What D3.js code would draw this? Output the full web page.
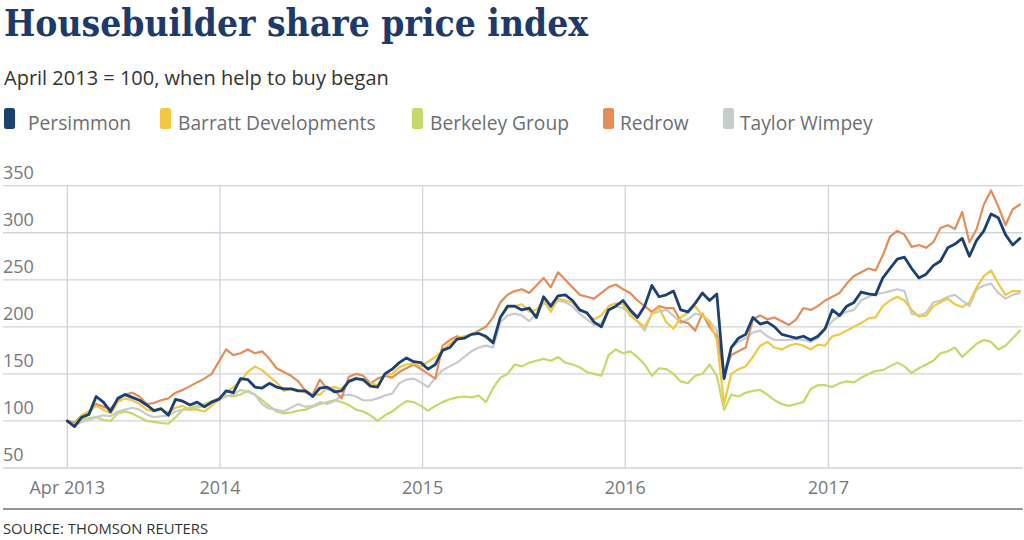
<!DOCTYPE html>
<html><head><meta charset="utf-8">
<script src="https://cdn.jsdelivr.net/npm/d3@7"></script>
<style>body{margin:0;background:#fff}svg{display:block}</style>
</head><body><svg id="c" width="1024" height="540"></svg>
<script>
// ---- data ----
const startDate = "2013-04-01";
const stepDays = 13;
const seriesNames = ["Persimmon","Barratt Developments","Berkeley Group","Redrow","Taylor Wimpey"];
const persimmon = [100,94,104,107,126,120,110,124,128,125,122,117,111,113,106,123,121,117,120,115,120,123,132,130,145,144,136,135,140,136,134,134,132,132,126,135,136,131,132,142,145,144,137,136,150,155,162,167,163,162,155,160,175,178,187,188,192,193,190,183,210,222,222,218,220,210,
232,222,233,234,228,218,215,205,200,218,222,228,218,210,222,244,232,234,238,218,216,225,236,228,235,145,178,188,192,210,203,205,200,192,190,188,190,186,190,198,218,212,222,226,237,235,234,252,262,272,274,262,252,256,265,270,284,288,294,275,292,302,320,316,298,287,294];
const barratt = [100,96,106,110,116,112,108,120,124,122,118,112,110,112,109,114,116,112,112,110,116,124,130,136,142,152,158,154,147,141,132,134,133,130,128,128,135,136,134,142,146,142,140,138,149,150,157,160,161,158,163,168,175,182,188,190,192,194,188,184,210,220,222,224,216,218,
228,216,230,228,226,218,214,208,212,222,225,224,212,206,200,214,220,205,198,210,215,222,212,205,186,118,150,155,158,168,180,184,178,176,180,182,180,176,181,180,190,192,196,200,204,209,210,222,228,232,228,218,211,212,222,226,230,224,221,226,242,254,260,246,234,238,238];
const berkeley = [100,98,102,103,104,101,100,108,110,108,104,100,99,98,97,104,112,114,116,118,121,124,127,126,128,132,128,122,116,110,108,109,111,112,115,118,120,122,120,117,112,110,106,100,106,110,116,121,120,116,111,116,120,123,125,126,125,127,120,135,146,150,160,158,162,164,
166,164,168,162,160,157,152,150,148,170,176,172,174,168,160,148,156,155,150,142,140,148,150,160,148,112,128,126,130,132,133,128,122,118,116,118,120,134,138,138,136,140,142,141,146,150,153,154,158,162,158,151,156,160,164,172,174,178,168,175,182,186,184,176,180,188,196];
const redrow = [100,98,106,110,118,115,113,122,128,130,126,118,119,122,124,130,133,137,141,145,150,163,176,170,172,176,172,174,166,156,152,148,142,132,128,144,134,133,124,147,150,148,140,145,148,146,152,156,160,155,150,145,180,186,190,188,192,196,200,210,226,234,238,240,236,244,
252,242,258,250,242,234,232,230,236,242,245,240,236,228,222,216,222,220,220,206,204,196,214,200,190,150,170,174,178,208,212,208,210,206,202,208,220,218,222,228,232,236,246,254,258,262,260,276,296,302,298,285,287,284,290,305,308,304,322,290,304,330,345,328,308,325,330];
const taylorWimpey = [100,96,99,101,104,106,105,110,112,114,112,107,104,105,106,110,112,112,114,116,118,122,126,128,133,131,128,118,113,112,110,114,118,115,116,120,118,121,127,128,126,122,122,124,127,129,140,144,145,141,136,146,154,158,162,168,174,178,180,178,205,212,214,212,206,214,
226,220,228,226,222,214,208,202,204,218,222,220,215,206,196,214,216,218,212,204,208,214,212,206,196,150,178,184,188,194,196,190,186,186,186,187,186,184,188,198,206,212,216,218,228,232,235,236,238,240,238,214,212,215,226,228,232,234,228,222,240,244,246,236,230,234,236];
const yTicks = [350,300,250,200,150,100,50];
const xTickDates = ["2013-04-01","2014-01-01","2015-01-01","2016-01-01","2017-01-01"];
const xTickLabels = ["Apr 2013","2014","2015","2016","2017"];
const colors = ["#1b4172","#f1c744","#c6d86a","#e48d58","#c6cbcc"];
const titleText = "Housebuilder share price index";
const subtitleText = "April 2013 = 100, when help to buy began";
const sourceText = "SOURCE: THOMSON REUTERS";

// ---- build ----
const parse = d3.utcParse("%Y-%m-%d");
const t0 = parse(startDate);
const seriesValues = [persimmon, barratt, berkeley, redrow, taylorWimpey];
const series = seriesValues.map((vals, k) => ({
  name: seriesNames[k], color: colors[k],
  points: vals.map((v, i) => ({date: d3.utcDay.offset(t0, i * stepDays), value: v}))
}));

const svg = d3.select("#c");
const x = d3.scaleUtc().domain([parse("2013-04-01"), parse("2017-12-17")]).range([67.3, 1022.7]);
const y = d3.scaleLinear().domain([50, 350]).range([468, 185.7]);
const sans = "'Open Sans', 'Noto Sans', sans-serif";

// title
svg.append("text").attr("x", 4).attr("y", 36)
  .attr("font-family", "'DejaVu Serif', serif").attr("font-weight", "bold")
  .attr("font-size", 38).attr("fill", "#1d3a6c")
  .attr("textLength", 584).attr("lengthAdjust", "spacingAndGlyphs")
  .text(titleText);
svg.append("text").attr("x", 4).attr("y", 85)
  .attr("font-family", sans).attr("font-size", 20).attr("fill", "#333")
  .text(subtitleText);

// legend
const legSquareX = [4, 160, 412, 603, 723];
const legTextX = [28, 178, 430, 620, 740];
const leg = svg.append("g");
series.forEach((s, k) => {
  leg.append("rect").attr("x", legSquareX[k]).attr("y", 108).attr("width", 11).attr("height", 21)
    .attr("rx", 2.5).attr("fill", s.color);
  leg.append("text").attr("x", legTextX[k]).attr("y", 130)
    .attr("font-family", sans).attr("font-size", 19.2).attr("fill", "#6b6e73").text(s.name);
});

// grid
const grid = svg.append("g");
grid.selectAll("line.h").data(yTicks).join("line").attr("class", "h")
  .attr("x1", 3).attr("x2", 1022.7).attr("y1", d => y(d)).attr("y2", d => y(d))
  .attr("stroke", "#cfd3da").attr("stroke-width", 1.3);
grid.selectAll("line.v").data(xTickDates).join("line").attr("class", "v")
  .attr("x1", d => x(parse(d))).attr("x2", d => x(parse(d)))
  .attr("y1", y(350)).attr("y2", y(50))
  .attr("stroke", "#cfd3da").attr("stroke-width", 1.3);

// y labels
svg.append("g").selectAll("text").data(yTicks).join("text")
  .attr("x", 3).attr("y", d => y(d) - 7)
  .attr("font-family", sans).attr("font-size", 18).attr("fill", "#76787c")
  .text(d => d);

// x labels
svg.append("g").selectAll("text").data(xTickDates).join("text")
  .attr("x", d => x(parse(d))).attr("y", 494).attr("text-anchor", "middle")
  .attr("font-family", sans).attr("font-size", 18).attr("fill", "#76787c")
  .text((d, i) => xTickLabels[i]);

// lines
const line = d3.line().x(d => x(d.date)).y(d => y(d.value));
const drawOrder = [2, 4, 3, 1, 0];
svg.append("g").selectAll("path").data(drawOrder.map(k => series[k])).join("path")
  .attr("d", d => line(d.points)).attr("fill", "none")
  .attr("stroke", d => d.color)
  .attr("stroke-width", d => d.name === "Persimmon" ? 2.8 : 2.2)
  .attr("stroke-linejoin", "round").attr("stroke-linecap", "round");

// footer
svg.append("line").attr("x1", 3).attr("x2", 1022.7).attr("y1", 509).attr("y2", 509)
  .attr("stroke", "#6d6f73").attr("stroke-width", 1.5);
svg.append("text").attr("x", 3).attr("y", 534)
  .attr("font-family", sans).attr("font-size", 14.8).attr("fill", "#333")
  .text(sourceText);
</script>
</body></html>
